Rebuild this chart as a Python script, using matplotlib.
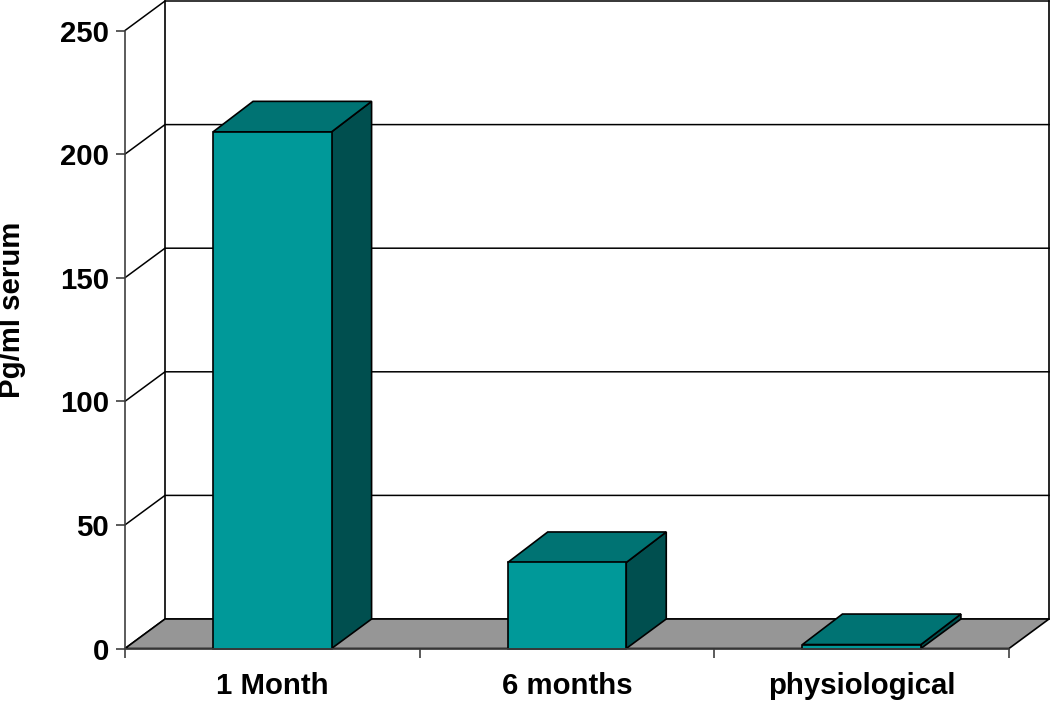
import numpy as np
import matplotlib
matplotlib.use("Agg")
import matplotlib.pyplot as plt
from matplotlib.patches import Polygon

plt.rcParams['font.family'] = ['Liberation Sans', 'DejaVu Sans']

categories = ['1 Month', '6 months', 'physiological']
values = [209, 34.8, 1.6]
y_ticks = [0, 50, 100, 150, 200, 250]

W, H = 1050, 701
FRONT = '#009999'
TOP = '#007373'
SIDE = '#004f4f'
FLOOR = '#969696'
AXIS = '#404040'
FS = 21.2

fig = plt.figure(figsize=(W / 100, H / 100), dpi=100)
ax = fig.add_axes([125 / W, 1 - 648.5 / H, 884 / W, 618 / H])
ax.set_xlim(0, 3)
ax.set_ylim(0, 250)

# depth of the fake 3d box, in data units
dx = 40 / 884 * 3
dy = 29.5 / 618 * 250
bar_dy = 30.5 / 618 * 250
bar_w = 118.5 / 884 * 3


def poly(pts, color, z, lw=1.2):
    ax.add_patch(Polygon(pts, closed=True, facecolor=color, edgecolor='black',
                         linewidth=lw, zorder=z, clip_on=False))


# floor
poly([(0, 0), (3, 0), (3 + dx, dy), (dx, dy)], FLOOR, 1)

# back wall and side wall lines
for t in y_ticks:
    ax.plot([0, dx, 3 + dx], [t, t + dy, t + dy], color='black', lw=1.1,
            zorder=0.5, clip_on=False)
ax.plot([dx, dx], [dy, 250 + dy], color='black', lw=1.2, zorder=0.6, clip_on=False)
ax.plot([3 + dx, 3 + dx], [dy, 250 + dy], color='black', lw=1.2, zorder=0.6, clip_on=False)

# bars
for i, v in enumerate(values):
    x0 = i + 0.5 - bar_w / 2
    x1 = x0 + bar_w
    poly([(x1, 0), (x1 + dx, dy), (x1 + dx, v + bar_dy), (x1, v)], SIDE, 3)
    poly([(x0, v), (x1, v), (x1 + dx, v + bar_dy), (x0 + dx, v + bar_dy)], TOP, 3)
    poly([(x0, 0), (x1, 0), (x1, v), (x0, v)], FRONT, 4)

for s in ['top', 'right']:
    ax.spines[s].set_visible(False)
for s in ['left', 'bottom']:
    ax.spines[s].set_color(AXIS)
    ax.spines[s].set_linewidth(1.2)
    ax.spines[s].set_zorder(5)

ax.set_yticks(y_ticks)
ax.set_yticklabels([str(t) for t in y_ticks], fontsize=FS, fontweight='bold')
ax.tick_params(axis='y', length=6.5, width=1.2, color=AXIS, pad=5)

ax.set_xticks([0, 1, 2, 3])
ax.set_xticklabels([])
ax.tick_params(axis='x', which='major', length=6.5, width=1.2, color=AXIS)
ax.set_xticks([0.5, 1.5, 2.5], minor=True)
ax.set_xticklabels(categories, minor=True, fontsize=FS, fontweight='bold')
ax.tick_params(axis='x', which='minor', length=0, pad=17)

fig.text(12.5 / W, 1 - 309.5 / H, 'Pg/ml serum', rotation=90, fontsize=FS,
         fontweight='bold', ha='center', va='center')

fig.savefig('out.png', dpi=100, facecolor='white')
